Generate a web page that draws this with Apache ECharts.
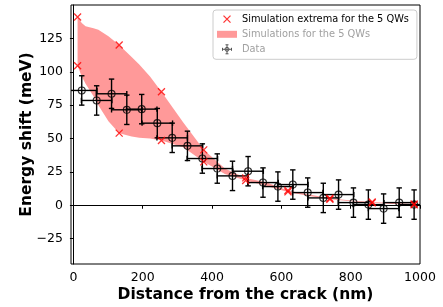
<!DOCTYPE html>
<html><head><meta charset="utf-8">
<script src="https://cdn.jsdelivr.net/npm/echarts@6/dist/echarts.min.js"></script>
<style>html,body{margin:0;padding:0;background:#fff}#c{width:443px;height:307px}</style>
</head><body><div id="c"></div>
<script>
// Data points (distance nm, energy shift meV) with error bars
const dataX = [24,67,110,154,197,242,285,329,372,415,459,504,547,590,633,676,721,765,808,851,895,940,983];
const dataY = [86,78.5,83.5,71.5,72,61.5,50.5,44.5,35,27.5,22,25.5,17,14,15.5,9.5,5.5,8,2,0.5,-2.5,2,0.5];
const dataXErr = [44,44,44,44,44,44,44,44,44,44,44,44,44,44,44,44,44,44,44,44,44,44,44];
const dataYErr = [11,11,11,11,11,11,11,11,11,11,11,11,11,11,11,11,11,11,11,11,11,11,11];
// Simulation extrema (x markers)
const extremaX = [12,12,132,132,254,254,376,376,497,497,619,619,740,740,862,862,983,983];
const extremaY = [141,104.5,120,54,85,48.5,41.5,32.5,20.5,18.5,11,10,5.2,4.5,2.5,1.8,1,0.3];
// Simulation band (upper/lower envelope)
const bandX     = [12,24,35,58,72,101,132,168,190,221,254,317,376,437,497,558,619,680,740,801,862,922,983];
const bandUpper = [141,136.5,134,132.5,131.5,126.5,120,111,105.5,96.5,85,62,41.5,27.5,20.5,17,11,8,5.2,3.6,2.5,1.6,1];
const bandLower = [104.5,96.5,91,81.6,75,63,54,51.5,50.5,50,48.5,43.5,32.5,23.5,18.5,14.5,10,7,4.5,3,1.8,1,0.3];
// Tick labels
const xTicks = [0,200,400,600,800,1000];
const yTicks = [-25,0,25,50,75,100,125];

const FONT = 'DejaVu Sans';
const chart = echarts.init(document.getElementById('c'), null, {renderer:'canvas'});
const fmtMinus = v => v < 0 ? '\u2212' + Math.abs(v) : String(v);

const option = {
  animation: false,
  backgroundColor: '#fff',
  grid: {left: 71, right: 23, top: 5, bottom: 43, containLabel: false, outerBoundsMode: 'none',
         show: true, borderColor: '#000', borderWidth: 1, backgroundColor: 'transparent'},
  xAxis: {
    type: 'value', min: -7, max: 1000,
    name: 'Distance from the crack (nm)', nameLocation: 'middle', nameGap: 23, nameMoveOverlap: false,
    nameTextStyle: {fontFamily: FONT, fontSize: 15.5, fontWeight: 'bold', color: '#000'},
    axisLine: {show: true, lineStyle: {color: '#000', width: 1}},
    axisTick: {show: true, length: 3.5, lineStyle: {color: '#000', width: 1}, customValues: xTicks},
    axisLabel: {fontFamily: FONT, fontSize: 12.5, color: '#000', margin: 7, customValues: xTicks, formatter: fmtMinus},
    splitLine: {show: false}
  },
  yAxis: {
    type: 'value', min: -44, max: 150,
    name: 'Energy shift (meV)', nameLocation: 'middle', nameGap: 36, nameMoveOverlap: false,
    nameTextStyle: {fontFamily: FONT, fontSize: 15.5, fontWeight: 'bold', color: '#000'},
    axisLine: {show: true, lineStyle: {color: '#000', width: 1}},
    axisTick: {show: true, length: 3.5, lineStyle: {color: '#000', width: 1}, customValues: yTicks},
    axisLabel: {fontFamily: FONT, fontSize: 12.5, color: '#000', margin: 8, customValues: yTicks, formatter: fmtMinus},
    splitLine: {show: false}
  },
  legend: {
    orient: 'vertical', left: 213, top: 10,
    itemWidth: 20, itemHeight: 9, itemGap: 5,
    padding: [4, 8, 5, 4],
    borderColor: '#ccc', borderWidth: 1, borderRadius: 3,
    backgroundColor: 'rgba(255,255,255,0.85)',
    selectedMode: false,
    textStyle: {fontFamily: FONT, fontSize: 9.8},
    data: [
      {name: 'Simulation extrema for the 5 QWs', icon: 'path://M-1,-1M8,8M0,0L7,7M7,0L0,7',
       itemStyle: {color: 'red', borderColor: 'red', borderWidth: 1.3}, textStyle: {color: '#000'}},
      {name: 'Simulations for the 5 QWs', icon: 'path://M0,0H20V7H0Z',
       itemStyle: {color: 'rgba(255,0,0,0.4)', borderWidth: 0}, textStyle: {color: '#a0a0a0'}},
      {name: 'Data', icon: 'path://M0,4.5L9,4.5M4.5,0L4.5,9M0,3L0,6M9,3L9,6M3,0L6,0M3,9L6,9M6.5,4.5A2,2 0 1,1 2.5,4.5A2,2 0 1,1 6.5,4.5',
       itemStyle: {color: 'transparent', borderColor: '#555', borderWidth: 1}, textStyle: {color: '#a0a0a0'}}
    ]
  },
  series: [
    {
      type: 'custom', name: 'Simulations for the 5 QWs', coordinateSystem: 'cartesian2d', z: 1, clip: true,
      data: bandX.map((x, i) => [x, bandUpper[i], bandLower[i]]),
      encode: {x: 0, y: [1, 2]},
      itemStyle: {color: 'rgba(255,0,0,0.4)'},
      renderItem: function (params, api) {
        if (params.dataIndex !== 0) return null;
        const pts = [];
        for (let i = 0; i < bandX.length; i++) pts.push(api.coord([bandX[i], bandUpper[i]]));
        for (let i = bandX.length - 1; i >= 0; i--) pts.push(api.coord([bandX[i], bandLower[i]]));
        return {type: 'polygon', shape: {points: pts}, style: {fill: 'rgba(255,0,0,0.4)', stroke: 'none'}};
      }
    },
    {
      type: 'custom', name: 'Data', coordinateSystem: 'cartesian2d', z: 3, clip: true,
      data: dataX.map((x, i) => [x, dataY[i], dataXErr[i], dataYErr[i]]),
      encode: {x: 0, y: 1},
      itemStyle: {color: '#000'},
      renderItem: function (params, api) {
        const x = api.value(0), y = api.value(1), xe = api.value(2), ye = api.value(3);
        const l = api.coord([x - xe, y]), r = api.coord([x + xe, y]);
        const t = api.coord([x, y + ye]), b = api.coord([x, y - ye]);
        const cap = 2.7;
        const st = {stroke: '#000', lineWidth: 1.4};
        const line = (x1, y1, x2, y2) => ({type: 'line', shape: {x1, y1, x2, y2}, style: st});
        return {type: 'group', children: [
          line(l[0], l[1], r[0], r[1]),
          line(l[0], l[1] - cap, l[0], l[1] + cap),
          line(r[0], r[1] - cap, r[0], r[1] + cap),
          line(t[0], t[1], b[0], b[1]),
          line(t[0] - cap, t[1], t[0] + cap, t[1]),
          line(b[0] - cap, b[1], b[0] + cap, b[1])
        ]};
      }
    },
    {
      type: 'scatter', name: 'Data', z: 4,
      data: dataX.map((x, i) => [x, dataY[i]]),
      symbol: 'circle', symbolSize: 7,
      itemStyle: {color: 'rgba(0,0,0,0)', borderColor: '#000', borderWidth: 1.1}
    },
    {
      type: 'scatter', name: 'Simulation extrema for the 5 QWs', z: 5,
      data: extremaX.map((x, i) => [x, extremaY[i]]),
      symbol: 'path://M0,0L7,7M7,0L0,7', symbolSize: 7,
      itemStyle: {color: 'red', borderColor: 'red', borderWidth: 1.3}
    }
  ]
};
chart.setOption(option);
</script>
</body></html>
